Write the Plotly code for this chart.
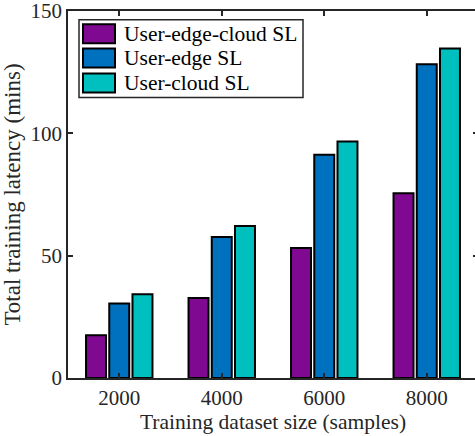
import plotly.graph_objects as go

sizes = [2000, 4000, 6000, 8000]
series_names = ["User-edge-cloud SL", "User-edge SL", "User-cloud SL"]
user_edge_cloud = [17.5, 32.7, 53.1, 75.5]
user_edge = [30.5, 57.6, 91.2, 128.2]
user_cloud = [34.2, 62.1, 96.7, 134.7]
colors = ["#7F0A91", "#0071BF", "#00BFBF"]
y_ticks = [0, 50, 100, 150]

FONT = "Liberation Serif"
AX = "#262626"

fig = go.Figure()
for name, vals, c in zip(series_names, [user_edge_cloud, user_edge, user_cloud], colors):
    fig.add_trace(go.Bar(x=sizes, y=vals, name=name, marker=dict(color=c, line=dict(color="black", width=2)),
                         showlegend=False))

# custom legend (box, swatches, labels) in paper coordinates
# plot area spans 410 px horizontally (68..478), 368 px vertically
def px(x):
    return (x - 68) / 410.0

fig.add_shape(type="rect", xref="paper", yref="paper", x0=px(79), x1=px(303), y0=0.764, y1=0.976,
              line=dict(color=AX, width=1.5), fillcolor="white", layer="above")
row_y = [0.938, 0.872, 0.804]
for name, c, yc in zip(series_names, colors, row_y):
    fig.add_shape(type="rect", xref="paper", yref="paper", x0=px(83), x1=px(115), y0=yc - 0.026, y1=yc + 0.026,
                  line=dict(color="black", width=2), fillcolor=c, layer="above")
    fig.add_annotation(xref="paper", yref="paper", x=px(122), y=yc, text=name, showarrow=False,
                       xanchor="left", yanchor="middle", font=dict(family=FONT, size=21.5, color="black"))

fig.update_layout(
    width=478, height=436,
    margin=dict(l=68, r=0, t=11, b=58, autoexpand=False),
    paper_bgcolor="white", plot_bgcolor="white",
    barmode="group", bargap=0.32, bargroupgap=0.14,
    font=dict(family=FONT, size=21, color="#262626"),
)
fig.update_xaxes(range=[1000, 9000], tickvals=sizes, ticktext=[str(s) for s in sizes],
                 ticks="inside", ticklen=5, tickcolor=AX, tickwidth=1.5, automargin=False,
                 ticklabeloverflow="allow",
                 showline=True, linecolor=AX, linewidth=1.5, mirror="ticks", showgrid=False, zeroline=False,
                 title=dict(text="Training dataset size (samples)", font=dict(size=21.5, color="#262626"), standoff=2),
                 tickfont=dict(size=21))
fig.update_yaxes(range=[0, 150], tickvals=y_ticks,
                 ticks="inside", ticklen=5, tickcolor=AX, tickwidth=1.5, automargin=False,
                 ticklabeloverflow="allow",
                 showline=True, linecolor=AX, linewidth=1.5, mirror="ticks", showgrid=False, zeroline=False,
                 title=dict(text="Total training latency (mins)", font=dict(size=23, color="#262626"), standoff=3),
                 tickfont=dict(size=21))

fig.write_html("out.html", config={"displayModeBar": False},
               post_script="document.body.style.margin='0px';document.body.style.overflow='hidden';")
